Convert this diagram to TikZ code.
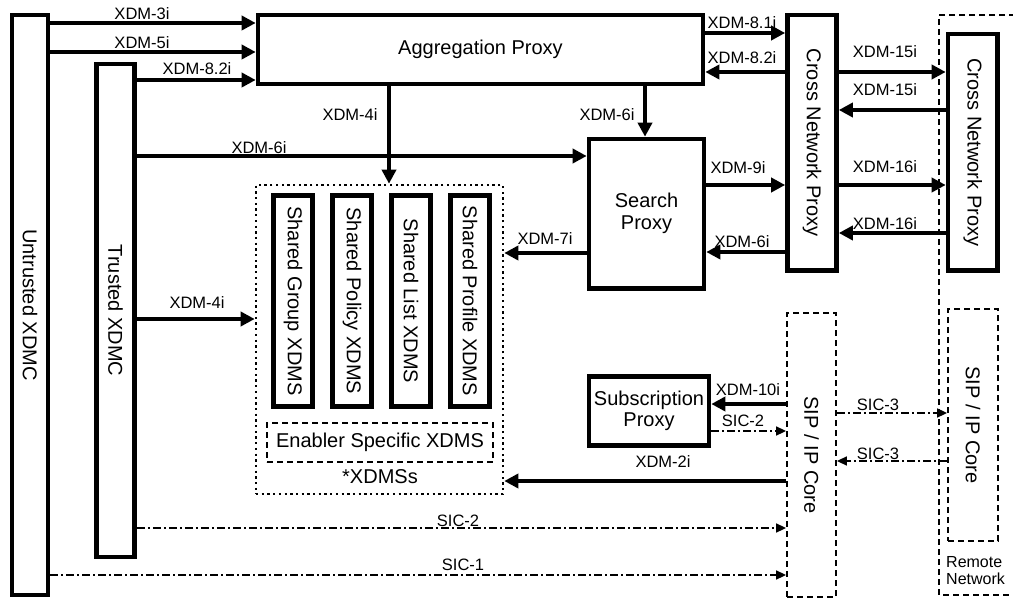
\documentclass[tikz,border=0pt]{standalone}
\usepackage{fontspec}
\setmainfont{Liberation Sans}
\usetikzlibrary{arrows.meta}
\newcommand\ndfont{\fontsize{20}{22}\selectfont}
\newcommand\lbfont{\fontsize{16.5}{18}\selectfont}
\begin{document}
\begin{tikzpicture}[x=1pt,y=-1pt,
  box/.style={draw, line width=4.6pt, inner sep=0pt, font=\ndfont, align=center},
  dbox/.style={draw, line width=1.8pt, dash pattern=on 6pt off 4pt, inner sep=0pt, font=\ndfont, align=center},
  dotbox/.style={draw, line width=2.6pt, dash pattern=on 2.3pt off 3.4pt, inner sep=0pt},
  lbl/.style={font=\lbfont, inner sep=0pt},
  arr/.style={line width=4.4pt, -{Triangle[length=14pt,width=14pt]}},
  sic/.style={line width=1.6pt, dash pattern=on 8pt off 3pt on 2pt off 3pt, -{Triangle[length=10pt,width=9pt]}}]
\useasboundingbox (0,0) rectangle (1013,599);

% main boxes
\node[box, minimum width=36pt, minimum height=580pt] (untr) at (30,305) {\rotatebox{-90}{Untrusted XDMC}};
\node[box, minimum width=38pt, minimum height=493pt] (trust) at (115.5,310.5) {\rotatebox{-90}{Trusted XDMC}};
\node[box, minimum width=445pt, minimum height=69pt] (agg) at (480.5,49.5) {Aggregation Proxy};
\node[box, minimum width=49pt, minimum height=255.5pt] (cnp) at (812,142.75) {\rotatebox{-90}{Cross Network Proxy}};
\node[box, minimum width=49.5pt, minimum height=236.5pt] (rcnp) at (972.75,152.25) {\rotatebox{-90}{Cross Network Proxy}};
\node[box, minimum width=115pt, minimum height=149.5pt] (search) at (646.5,213.75) {Search\\Proxy};
\node[box, minimum width=120pt, minimum height=69pt, font=\fontsize{20}{21}\selectfont] (sub) at (649,411) {Subscription\\Proxy};
\node[dbox, minimum width=49pt, minimum height=284pt] (sip) at (811.5,455) {\rotatebox{-90}{SIP / IP Core}};
\node[dbox, minimum width=50pt, minimum height=232pt] (rsip) at (973,425) {\rotatebox{-90}{SIP / IP Core}};

% remote network region (open to the right)
\coordinate (rtop) at (1015,15);
\coordinate (rbot) at (1015,595);
\draw[line width=1.8pt, dash pattern=on 6pt off 4pt] (rtop) -| (939,595) -- (rbot);
\node[lbl, font=\fontsize{16}{17}\selectfont, align=left, anchor=west] (rn) at (946,571) {Remote\\Network};

% XDMSs group
\node[dotbox, minimum width=247pt, minimum height=309pt] (xdmss) at (379.5,339.5) {};
\node[box, minimum width=38.5pt, minimum height=211pt] (g1) at (293,301) {\rotatebox{-90}{Shared Group XDMS}};
\node[box, minimum width=38.5pt, minimum height=211pt] (g2) at (352,301) {\rotatebox{-90}{Shared Policy XDMS}};
\node[box, minimum width=38.5pt, minimum height=211pt] (g3) at (411,301) {\rotatebox{-90}{Shared List XDMS}};
\node[box, minimum width=38.5pt, minimum height=211pt] (g4) at (470,301) {\rotatebox{-90}{Shared Profile XDMS}};
\node[dbox, minimum width=226pt, minimum height=39pt] (ena) at (380,442.5) {Enabler Specific XDMS};
\node[font=\ndfont, inner sep=0pt] (xl) at (380,477) {*XDMSs};

% thick connectors
\draw[arr] (untr.east |- 0,23) -- (agg.west |- 0,23);
\node[lbl] (l1) at (142,14) {XDM-3i};
\draw[arr] (untr.east |- 0,52) -- (agg.west |- 0,52);
\node[lbl] (l2) at (142,43) {XDM-5i};
\draw[arr] (trust.east |- 0,80) -- (agg.west |- 0,80);
\node[lbl] (l3) at (197,69) {XDM-8.2i};
\draw[arr] (trust.east |- 0,156) -- (search.west |- 0,156);
\node[lbl] (l4) at (259,148) {XDM-6i};
\draw[arr] (trust.east |- 0,319) -- (xdmss.west |- 0,319);
\node[lbl] (l5) at (197,303) {XDM-4i};
\draw[arr] (agg.south -| 389,0) -- (xdmss.north -| 389,0);
\node[lbl] (l6) at (350,115) {XDM-4i};
\draw[arr] (agg.south -| 645,0) -- (search.north -| 645,0);
\node[lbl] (l7) at (607,115) {XDM-6i};
\draw[arr] (agg.east |- 0,33) -- (cnp.west |- 0,33);
\node[lbl] (l8) at (742,23) {XDM-8.1i};
\draw[arr] (cnp.west |- 0,72) -- (agg.east |- 0,72);
\node[lbl] (l9) at (742,58) {XDM-8.2i};
\draw[arr] (search.east |- 0,185) -- (cnp.west |- 0,185);
\node[lbl] (l10) at (738,168) {XDM-9i};
\draw[arr] (cnp.west |- 0,252) -- (search.east |- 0,252);
\node[lbl] (l11) at (742,242) {XDM-6i};
\draw[arr] (search.west |- 0,253) -- (xdmss.east |- 0,253);
\node[lbl] (l12) at (545,239) {XDM-7i};
\draw[arr] (cnp.east |- 0,72) -- (rcnp.west |- 0,72);
\node[lbl] (l13) at (885,52) {XDM-15i};
\draw[arr] (rcnp.west |- 0,110) -- (cnp.east |- 0,110);
\node[lbl] (l14) at (885,90) {XDM-15i};
\draw[arr] (cnp.east |- 0,185) -- (rcnp.west |- 0,185);
\node[lbl] (l15) at (885,167) {XDM-16i};
\draw[arr] (rcnp.west |- 0,233) -- (cnp.east |- 0,233);
\node[lbl] (l16) at (885,224) {XDM-16i};
\draw[arr] (sip.west |- 0,404) -- (sub.east |- 0,404);
\node[lbl] (l17) at (748,390) {XDM-10i};
\draw[arr] (sip.west |- 0,481) -- (xdmss.east |- 0,481);
\node[lbl] (l18) at (663,462) {XDM-2i};

% dash-dot connectors
\draw[sic] (sub.east |- 0,431) -- (sip.west |- 0,431);
\node[lbl] (l19) at (743,421) {SIC-2};
\draw[sic] (trust.east |- 0,528) -- (sip.west |- 0,528);
\node[lbl] (l20) at (458,521) {SIC-2};
\draw[sic] (untr.east |- 0,575) -- (sip.west |- 0,575);
\node[lbl] (l21) at (463,565) {SIC-1};
\draw[sic] (sip.east |- 0,413) -- (rsip.west |- 0,413);
\node[lbl] (l22) at (878,405) {SIC-3};
\draw[sic] (rsip.west |- 0,461) -- (sip.east |- 0,461);
\node[lbl] (l23) at (878,454) {SIC-3};
\end{tikzpicture}
\end{document}
